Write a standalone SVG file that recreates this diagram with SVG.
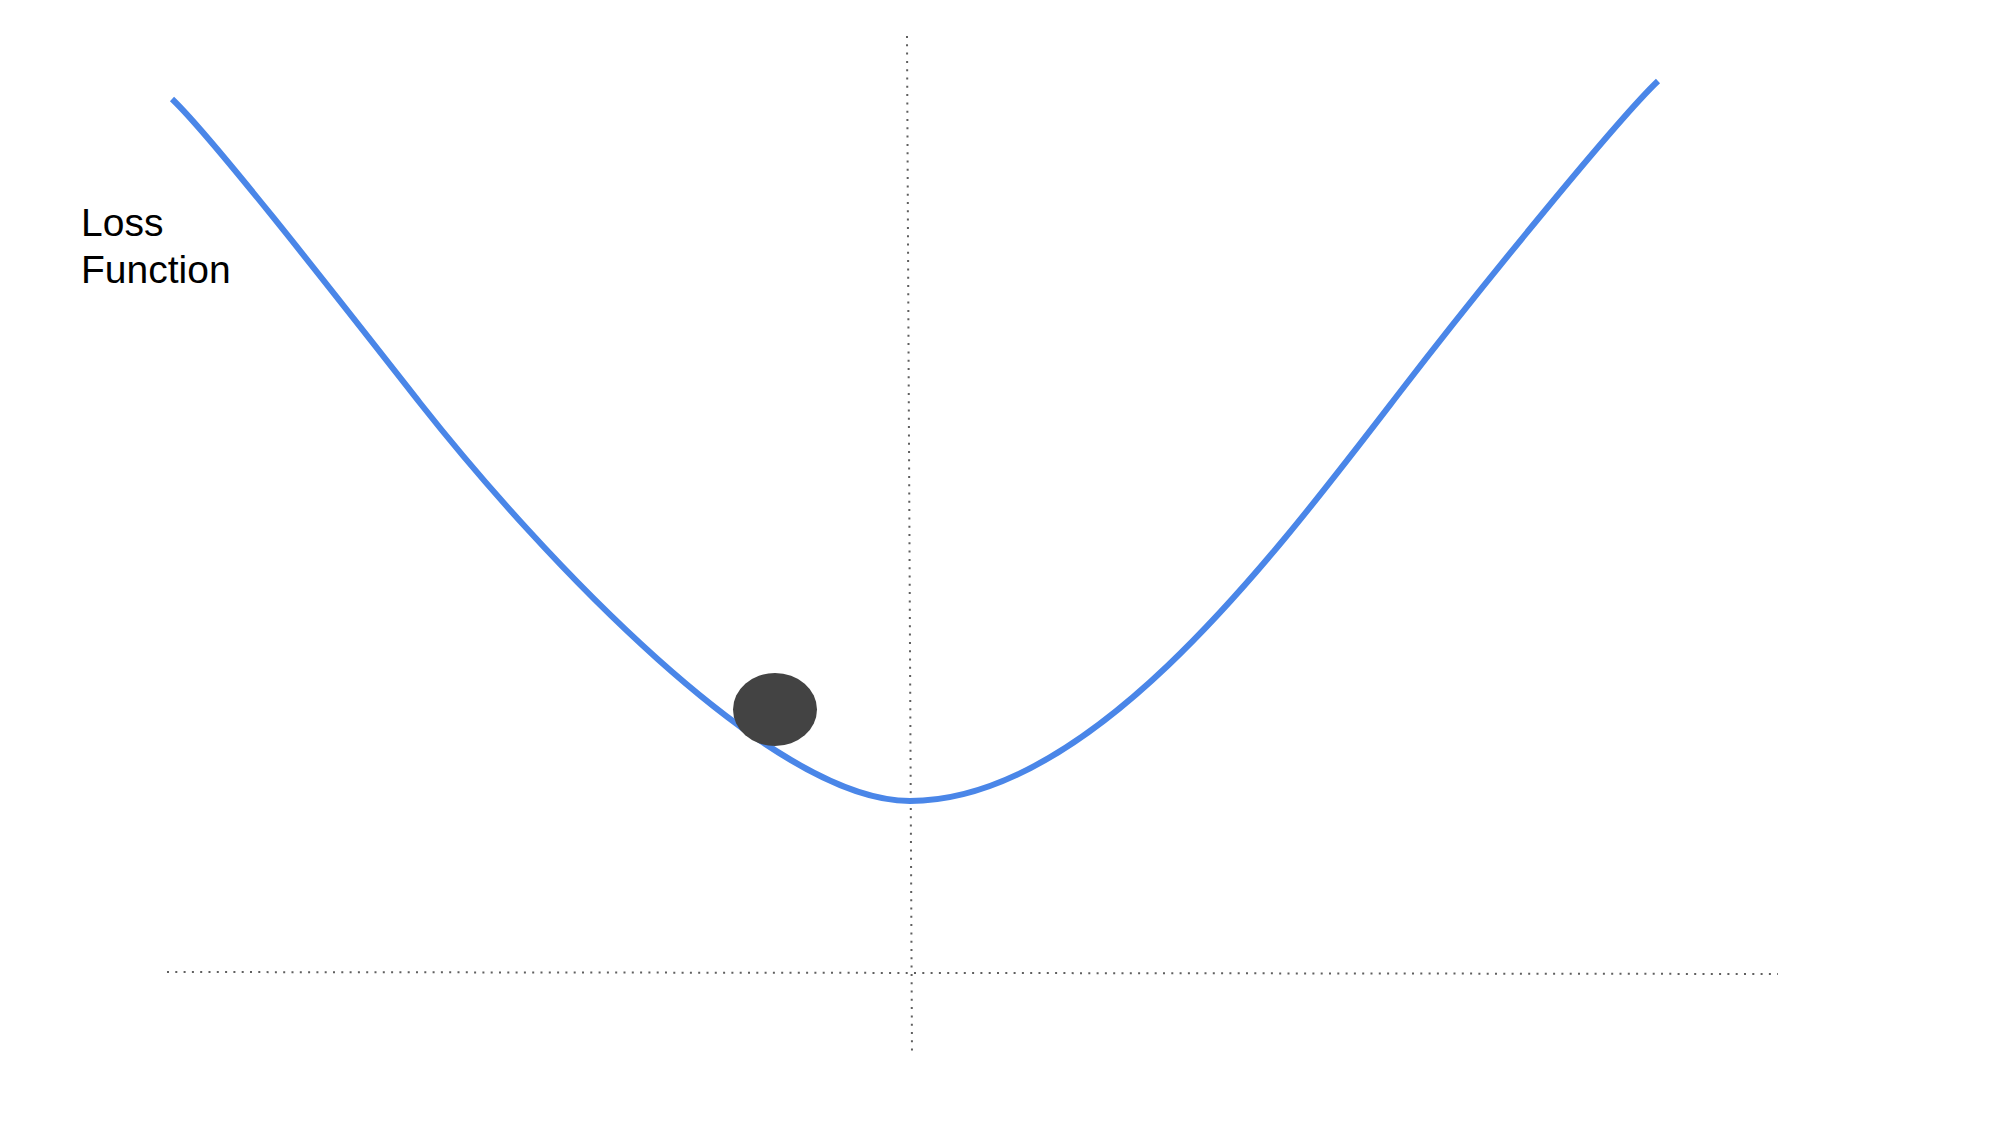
<svg xmlns="http://www.w3.org/2000/svg" width="2000" height="1125" viewBox="0 0 2000 1125">
  <style>
    .axis { fill: none; stroke: #5f5f5f; stroke-width: 2; stroke-dasharray: 2 6.3; }
    .curve { fill: none; stroke: #4a86e8; stroke-width: 6; stroke-linecap: butt; }
    .label { font-family: "Liberation Sans", Arial, sans-serif; font-size: 39px; fill: #000000; }
  </style>
  <rect x="0" y="0" width="2000" height="1125" fill="#ffffff"/>
  <g id="connectors">
    <line class="axis" x1="907" y1="36" x2="912" y2="1055"/>
    <line class="axis" x1="167" y1="972" x2="1778" y2="974"/>
  </g>
  <g id="loss-curve">
    <path class="curve" d="M172,99 C212,137 340,301 420,403 C540,555 770,801 910,801 C1090,801 1270,561 1400,392 C1480,288 1618,119 1658,81"/>
  </g>
  <g id="ball">
    <ellipse cx="775" cy="709.5" rx="42" ry="36.5" fill="#434343"/>
  </g>
  <g id="label-loss-function">
    <text class="label" x="81" y="236">Loss</text>
    <text class="label" x="81" y="283">Function</text>
  </g>
</svg>
